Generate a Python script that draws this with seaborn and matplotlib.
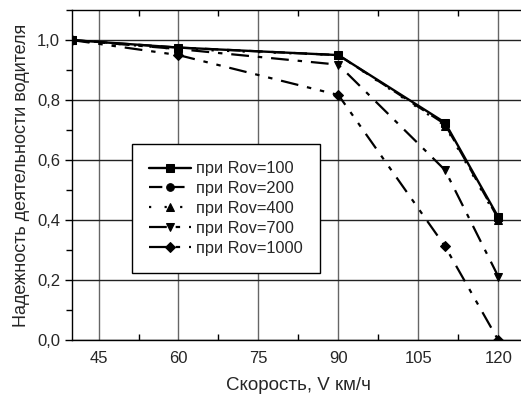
import numpy as np
import pandas as pd
import matplotlib
matplotlib.use('Agg')
import matplotlib.pyplot as plt
from matplotlib.ticker import FuncFormatter, MultipleLocator
import seaborn as sns

# Reliability of driver activity vs speed
speed = [40, 60, 90, 110, 120]
rov_100 = [1.0, 0.975, 0.95, 0.725, 0.41]
rov_200 = [1.0, 0.975, 0.95, 0.72, 0.405]
rov_400 = [1.0, 0.97, 0.95, 0.715, 0.40]
rov_700 = [1.0, 0.97, 0.918, 0.567, 0.212]
rov_1000 = [1.0, 0.95, 0.817, 0.313, 0.0]
labels = ['при Rov=100', 'при Rov=200', 'при Rov=400', 'при Rov=700', 'при Rov=1000']

sns.set_style('white')
plt.rcParams['font.family'] = ['Liberation Sans', 'DejaVu Sans']

fig = plt.figure(figsize=(5.21, 4.03), dpi=100)
ax = fig.add_axes([0.138, 0.156, 0.8695, 0.819])

series = [rov_100, rov_200, rov_400, rov_700, rov_1000]
styles = [
    ('-', 's', 1.7),
    ((0, (6, 4)), 'o', 1.6),
    ((0, (1, 6)), '^', 1.6),
    ((0, (8, 4, 2, 4)), 'v', 1.6),
    ((0, (8, 4, 2, 4, 2, 4)), 'D', 1.6),
]
for vals, lab, (ls, mk, lw) in zip(series, labels, styles):
    df = pd.DataFrame({'V': speed, 'R': vals})
    sns.lineplot(data=df, x='V', y='R', ax=ax, color='black', linestyle=ls,
                 linewidth=lw, marker=mk, markersize=5.5, markeredgecolor='black',
                 label=lab, clip_on=True)

ax.set_xlim(40, 125)
ax.set_ylim(0, 1.1)
ax.set_xticks([45, 60, 75, 90, 105, 120])
ax.xaxis.set_minor_locator(MultipleLocator(7.5))
ax.yaxis.set_major_locator(MultipleLocator(0.2))
ax.yaxis.set_minor_locator(MultipleLocator(0.1))
ax.yaxis.set_major_formatter(FuncFormatter(lambda v, p: f'{v:.1f}'.replace('.', ',')))
ax.grid(True, which='major', axis='y', color='#222222', linewidth=1.0)
ax.grid(True, which='major', axis='x', color='#666666', linewidth=1.0)
ax.set_axisbelow(True)

ax.tick_params(axis='x', which='both', direction='in', top=True, bottom=True,
               labelsize=12, length=0, pad=8)
ax.tick_params(axis='x', which='minor', length=4, width=1, color='black')
ax.tick_params(axis='y', which='both', direction='out', left=True,
               labelsize=12, length=5, width=1, color='black')
ax.tick_params(axis='y', which='minor', length=4)

for s in ['left', 'bottom', 'top']:
    ax.spines[s].set_visible(True)
    ax.spines[s].set_color('black')
    ax.spines[s].set_linewidth(1.0)
ax.spines['right'].set_visible(False)

ax.set_xlabel('Скорость, V км/ч', fontsize=13.5, labelpad=8)
ax.set_ylabel('Надежность деятельности водителя', fontsize=13, labelpad=5)

leg = ax.legend(loc='upper left', bbox_to_anchor=(0.132, 0.594), fontsize=11.8,
                frameon=True, fancybox=False, edgecolor='black', framealpha=1,
                handlelength=2.55, handletextpad=0.3, borderpad=1.05, labelspacing=0.3,
                borderaxespad=0)
leg.get_frame().set_linewidth(1.0)

fig.savefig('out.png', dpi=100)
